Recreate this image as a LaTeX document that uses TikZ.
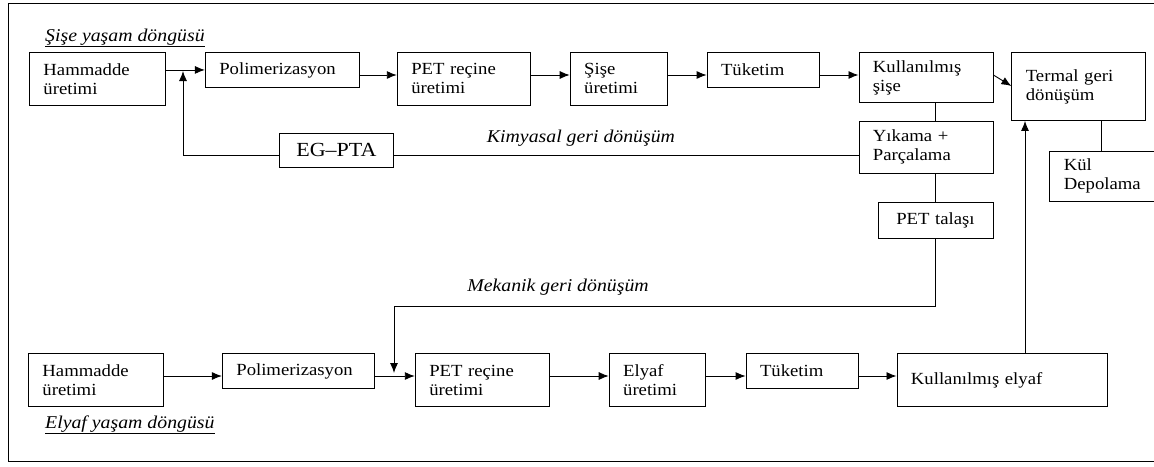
\documentclass[tikz,border=0pt]{standalone}
\usepackage{fontspec}
\setmainfont[FakeStretch=1.1]{Liberation Serif}
\usetikzlibrary{positioning,arrows.meta}

\begin{document}
\begin{tikzpicture}[x=1pt,y=1pt,node distance=39pt,>={Latex[length=10pt,width=8pt]},
	box/.style={draw,rectangle,line width=0.9pt,inner xsep=14pt,inner ysep=0pt,align=left,font=\fontsize{17}{19}\selectfont},
	cbox/.style={box,align=center},
	tall/.style={minimum height=53pt},
	flat/.style={minimum height=35pt},
	lbl/.style={font=\fontsize{18}{20}\selectfont\itshape,inner sep=0pt}]
			\useasboundingbox (0,0) rectangle (1154,-466);
			\clip (0,0) rectangle (1154,-466);
			\draw[line width=0.9pt] (8,-3) rectangle (1170,-461);
			\node[box,tall,text width=108pt,anchor=north west] (ham1) at (29,-52) {Hammadde\\üretimi};
			\node[box,flat,text width=126pt] (pol1)[right=of ham1.north east,anchor=north west] {Polimerizasyon};
			\node[box,tall,text width=105pt] (pet1)[right=37pt of pol1.north east,anchor=north west] {PET reçine\\üretimi};
			\node[box,tall,text width=69pt] (sise)[right=of pet1.north east,anchor=north west] {Şişe\\üretimi};
			\node[box,flat,text width=84pt] (tuk1)[right=of sise.north east,anchor=north west] {Tüketim};
			\node[box,minimum height=50pt,text width=106pt] (kul1)[right=of tuk1.north east,anchor=north west] {Kullanılmış\\şişe};
			\node[box,minimum height=68pt,text width=106pt] (termal)[right=18pt of kul1.north east,anchor=north west] {Termal geri\\dönüşüm};
			\node[box,minimum height=52pt,text width=106pt] (yikama)[below=18pt of kul1] {Yıkama +\\Parçalama};
			\node[cbox,minimum height=36pt,text width=87pt] (talasi)[below=28pt of yikama,xshift=9.5pt] {PET talaşı};
			\node[cbox,minimum height=34pt,text width=86pt,font=\fontsize{20}{22}\selectfont,anchor=north west] (egpta) at (279,-133) {EG–PTA};
			\node[box,minimum height=50pt,text width=88pt] (kuldep)[below=30pt of termal.south west,anchor=north west,xshift=38pt] {Kül\\Depolama};
			\node[box,tall,text width=107pt,anchor=north west] (ham2) at (28,-353) {Hammadde\\üretimi};
			\node[box,flat,text width=124pt] (pol2)[right=58pt of ham2.north east,anchor=north west] {Polimerizasyon};
			\node[box,tall,text width=106pt] (pet2)[right=40pt of pol2.north east,anchor=north west] {PET reçine\\üretimi};
			\node[box,tall,text width=68pt] (elyaf)[right=59pt of pet2.north east,anchor=north west] {Elyaf\\üretimi};
			\node[box,flat,text width=84pt] (tuk2)[right=40pt of elyaf.north east,anchor=north west] {Tüketim};
			\node[box,tall,text width=182pt] (kul2)[right=38pt of tuk2.north east,anchor=north west] {Kullanılmış elyaf};
			\node[lbl,anchor=base west] (lsise) at (45,-41) {\underline{Şişe yaşam döngüsü}};
			\node[lbl,anchor=base west] (lelyaf) at (45,-428) {\underline{Elyaf yaşam döngüsü}};
			\node[lbl] (lkim) at (581,-138) {Kimyasal geri dönüşüm};
			\node[lbl] (lmek) at (558,-287) {Mekanik geri dönüşüm};
			\coordinate (row1) at (0,-75);
			\coordinate (row2) at (0,-376);
			\coordinate (chem) at (0,-155);
			\coordinate (join1) at (183,-71);
			\coordinate (mechturn) at (394,-306);
			\coordinate (join2) at (394,-373);
			\coordinate (thermx) at (1025,0);
			\coordinate (ashx) at (1101,0);
			\path[->,line width=0.9pt]
			(ham1.east |- pol1.west) edge (pol1.west)
			(pol1.east |- row1) edge (pet1.west |- row1)
			(pet1.east |- row1) edge (sise.west |- row1)
			(sise.east |- row1) edge (tuk1.west |- row1)
			(tuk1.east |- row1) edge (kul1.west |- row1)
			(kul1.east |- row1) edge ([yshift=-34pt]termal.north west)
			(ham2.east |- row2) edge (pol2.west |- row2)
			(pol2.east |- row2) edge (pet2.west |- row2)
			(pet2.east |- row2) edge (elyaf.west |- row2)
			(elyaf.east |- row2) edge (tuk2.west |- row2)
			(tuk2.east |- row2) edge (kul2.west |- row2)
			(kul2.north -| thermx) edge (termal.south -| thermx);
			\draw[line width=0.9pt] (talasi.north |- kul1.south) -- (talasi.north |- yikama.north);
			\draw[line width=0.9pt] (talasi.north |- yikama.south) -- (talasi.north);
			\draw[line width=0.9pt] (termal.south -| ashx) -- (kuldep.north -| ashx);
			\draw[line width=0.9pt] (yikama.west |- chem) -- (egpta.east |- chem);
			\draw[->,line width=0.9pt] (egpta.west |- chem) -| (join1);
			\draw[->,line width=0.9pt] (talasi.south) |- (mechturn) -- (join2);
		\end{tikzpicture}
\end{document}
